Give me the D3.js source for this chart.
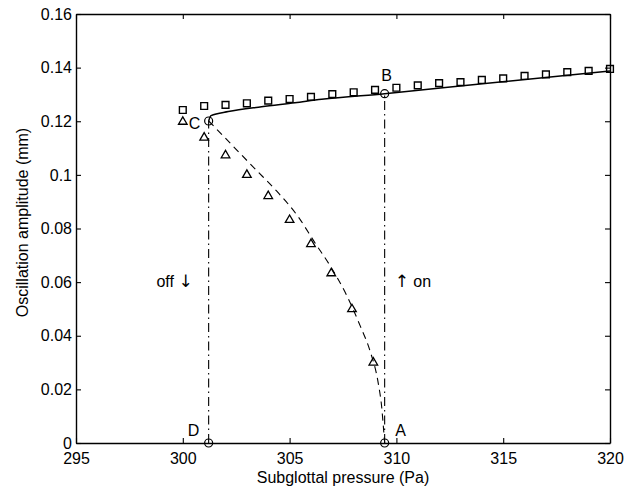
<!DOCTYPE html>
<html>
<head>
<meta charset="utf-8">
<script src="https://cdn.jsdelivr.net/npm/d3@7"></script>
<style>
  html, body { margin: 0; padding: 0; background: #fff; }
  svg { display: block; font-family: "Liberation Sans", Arial, Helvetica, sans-serif; }
</style>
</head>
<body>
<svg id="chart" width="636" height="489"></svg>
<script>
// Axis ticks
const pressureTicks = [295, 300, 305, 310, 315, 320];
const amplitudeTicks = [0, 0.02, 0.04, 0.06, 0.08, 0.1, 0.12, 0.14, 0.16];

// Simulated stable branch (squares)
const squareP = [300, 301, 302, 303, 304, 305, 306, 307, 308, 309, 310,
                 311, 312, 313, 314, 315, 316, 317, 318, 319, 320];
const squareA = [0.1242, 0.1257, 0.1261, 0.1267, 0.1277, 0.1283, 0.1291, 0.1301, 0.1308, 0.1317, 0.1325,
                 0.1334, 0.1342, 0.1346, 0.1354, 0.1360, 0.1369, 0.1375, 0.1383, 0.1388, 0.1395];

// Simulated unstable branch (triangles)
const triangleP = [300, 301, 302, 303, 304, 305, 306, 306.95, 307.92, 308.92];
const triangleA = [0.1198, 0.1139, 0.1073, 0.1000, 0.0921, 0.0832, 0.0742, 0.0633, 0.0499, 0.0300];

// Analytical stable branch (solid curve)
const stableP = [301.21, 301.32, 302.13, 303.69, 305.25, 306.5, 309.45, 313.45, 320];
const stableA = [0.1201, 0.1221, 0.1236, 0.1254, 0.1269, 0.1282, 0.1303, 0.1335, 0.1387];

// Analytical unstable branch (dashed curve)
const unstableP = [301.21, 301.85, 302.45, 303.4, 304.4, 305.4, 306.2, 306.92, 307.7, 308.32, 308.75, 309.15, 309.31, 309.39, 309.45];
const unstableA = [0.1201, 0.1149, 0.1099, 0.1021, 0.0939, 0.0844, 0.0745, 0.0658, 0.0546, 0.0434, 0.0347, 0.0223, 0.0135, 0.0061, 0];

// Labelled turning points
const pointNames = ["A", "B", "C", "D"];
const pointP = [309.45, 309.45, 301.21, 301.21];
const pointA = [0, 0.1303, 0.1201, 0];

// Onset / offset jumps
const jumpWords = ["off", "on"];
const jumpArrows = ["↓", "↑"];
const jumpP = [301.21, 309.45];
const jumpTop = [0.1201, 0.1303];

const svg = d3.select("#chart");
const width = 636, height = 489;
const margin = { top: 14, right: 26, bottom: 46, left: 76 };
const innerW = width - margin.left - margin.right;
const innerH = height - margin.top - margin.bottom;

const x = d3.scaleLinear().domain([295, 320]).range([0, innerW]);
const y = d3.scaleLinear().domain([0, 0.16]).range([innerH, 0]);

const g = svg.append("g").attr("transform", `translate(${margin.left},${margin.top})`);

const fontSize = 16;
const fmtY = d => d === 0 ? "0" : d3.format("~g")(d);

// Axes with inward ticks on all four sides (boxed frame)
const axB = g.append("g").attr("transform", `translate(0,${innerH})`)
  .call(d3.axisBottom(x).tickValues(pressureTicks).tickSizeInner(-5).tickSizeOuter(0).tickPadding(10).tickFormat(d3.format("d")));
const axT = g.append("g")
  .call(d3.axisTop(x).tickValues(pressureTicks).tickSizeInner(-5).tickSizeOuter(0).tickFormat(""));
const axL = g.append("g")
  .call(d3.axisLeft(y).tickValues(amplitudeTicks).tickSizeInner(-5).tickSizeOuter(0).tickPadding(4).tickFormat(fmtY));
const axR = g.append("g").attr("transform", `translate(${innerW},0)`)
  .call(d3.axisRight(y).tickValues(amplitudeTicks).tickSizeInner(-5).tickSizeOuter(0).tickFormat(""));

[axB, axT, axL, axR].forEach(a => {
  a.selectAll("path.domain").attr("stroke", "#000").attr("stroke-width", 1.4);
  a.selectAll(".tick line").attr("stroke", "#000").attr("stroke-width", 1.1);
  a.selectAll("text").attr("fill", "#000").style("font-size", fontSize + "px")
    .style("font-family", '"Liberation Sans", Arial, sans-serif');
});

// Axis titles
g.append("text")
  .attr("x", innerW / 2).attr("y", innerH + 40)
  .attr("text-anchor", "middle").style("font-size", fontSize + "px")
  .text("Subglottal pressure (Pa)");
g.append("text")
  .attr("transform", "rotate(-90)")
  .attr("x", -innerH / 2 + 6).attr("y", -48)
  .attr("text-anchor", "middle").style("font-size", fontSize + "px")
  .text("Oscillation amplitude (mm)");

// Vertical jump lines (dash-dot)
g.selectAll("line.jump").data(jumpP).join("line")
  .attr("class", "jump")
  .attr("x1", d => x(d)).attr("x2", d => x(d))
  .attr("y1", y(0)).attr("y2", (d, i) => y(jumpTop[i]))
  .attr("stroke", "#000").attr("stroke-width", 1.1)
  .attr("stroke-dasharray", "9,4,1.5,4");

// Stable branch: solid
const stablePts = stableP.map((p, i) => [p, stableA[i]]);
g.append("path")
  .datum(stablePts)
  .attr("fill", "none").attr("stroke", "#000").attr("stroke-width", 1.5)
  .attr("d", d3.line().x(d => x(d[0])).y(d => y(d[1])).curve(d3.curveMonotoneX));

// Unstable branch: dashed
const unstablePts = unstableP.map((p, i) => [p, unstableA[i]]);
g.append("path")
  .datum(unstablePts)
  .attr("fill", "none").attr("stroke", "#000").attr("stroke-width", 1.1)
  .attr("stroke-dasharray", "7,5")
  .attr("d", d3.line().x(d => x(d[0])).y(d => y(d[1])).curve(d3.curveMonotoneX));

// Square markers
g.selectAll("path.sq").data(squareP).join("path")
  .attr("class", "sq")
  .attr("transform", (d, i) => `translate(${x(d)},${y(squareA[i])})`)
  .attr("d", d3.symbol(d3.symbolSquare, 46)())
  .attr("fill", "none").attr("stroke", "#000").attr("stroke-width", 1.4);

// Triangle markers
g.selectAll("path.tri").data(triangleP).join("path")
  .attr("class", "tri")
  .attr("transform", (d, i) => `translate(${x(d)},${y(triangleA[i])})`)
  .attr("d", d3.symbol(d3.symbolTriangle, 32)())
  .attr("fill", "none").attr("stroke", "#000").attr("stroke-width", 1.3);

// Turning-point circles
g.selectAll("circle.pt").data(pointP).join("circle")
  .attr("class", "pt")
  .attr("cx", d => x(d)).attr("cy", (d, i) => y(pointA[i]))
  .attr("r", 4)
  .attr("fill", "none").attr("stroke", "#000").attr("stroke-width", 1.2);

// Point letters
const letterOffset = { A: [16, -7], B: [2, -13], C: [-14, 8], D: [-15, -7] };
g.selectAll("text.pt").data(pointNames).join("text")
  .attr("class", "pt")
  .attr("x", (d, i) => x(pointP[i]) + letterOffset[d][0])
  .attr("y", (d, i) => y(pointA[i]) + letterOffset[d][1])
  .attr("text-anchor", "middle")
  .style("font-size", fontSize + "px")
  .text(d => d);

// Jump annotations: word plus arrow
const arrowStyle = t => t.style("font-family", '"DejaVu Sans", sans-serif').style("font-size", "17px");
const offText = g.append("text")
  .attr("x", x(jumpP[0]) - 16).attr("y", y(0.06) + 5)
  .attr("text-anchor", "end").style("font-size", fontSize + "px");
offText.append("tspan").text(jumpWords[0] + " ");
offText.append("tspan").call(arrowStyle).text(jumpArrows[0]);

const onText = g.append("text")
  .attr("x", x(jumpP[1]) + 10).attr("y", y(0.06) + 5)
  .attr("text-anchor", "start").style("font-size", fontSize + "px");
onText.append("tspan").call(arrowStyle).text(jumpArrows[1]);
onText.append("tspan").text(" " + jumpWords[1]);
</script>
</body>
</html>
